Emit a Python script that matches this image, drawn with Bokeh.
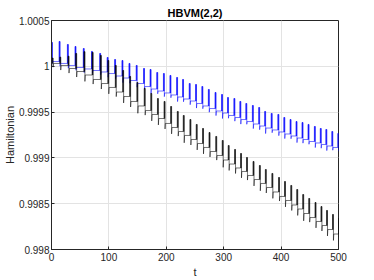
from bokeh.plotting import figure
from bokeh.models import FixedTicker, Range1d, ColumnDataSource
from bokeh.embed import file_html
from bokeh.resources import INLINE

# ---- data ----
spike_t = [0, 13.3, 27.7, 41.0, 55.4, 69.7, 84.0, 97.0, 110.0, 122.8, 135.0, 147.6,
           160.4, 171.8, 183.4, 195.0, 206.4, 218.0, 228.4, 240.0, 251.0, 262.0,
           273.3, 285.0, 296.3, 306.7, 317.8, 328.2, 338.6, 350.0, 361.0, 371.4,
           382.8, 394.4, 404.8, 415.7, 426.1, 436.5, 447.0, 458.0, 468.3, 478.0,
           488.4, 498.8]

blue_top = [1.000260, 1.000271, 1.000238, 1.000216, 1.000194, 1.000162, 1.000140,
            1.000096, 1.000074, 1.000063, 1.000031, 1.000009, 0.999976, 0.999965,
            0.999932, 0.999921, 0.999900, 0.999878, 0.999856, 0.999812, 0.999801,
            0.999779, 0.999747, 0.999714, 0.999692, 0.999659, 0.999648, 0.999616,
            0.999594, 0.999572, 0.999550, 0.999507, 0.999485, 0.999474, 0.999441,
            0.999419, 0.999397, 0.999386, 0.999365, 0.999343, 0.999321, 0.999310,
            0.999288, 0.999266]
blue_base = [1.000052, 1.000031, 1.000009, 0.999987, 0.999971, 0.999954, 0.999938,
             0.999921, 0.999894, 0.999872, 0.999845, 0.999812, 0.999779, 0.999752,
             0.999730, 0.999709, 0.999687, 0.999665, 0.999643, 0.999621, 0.999594,
             0.999567, 0.999539, 0.999512, 0.999490, 0.999463, 0.999441, 0.999419,
             0.999397, 0.999370, 0.999348, 0.999326, 0.999305, 0.999283, 0.999261,
             0.999239, 0.999217, 0.999201, 0.999179, 0.999163, 0.999146, 0.999130,
             0.999114, 0.999103]
blue_dip = [2, 3, 3, 3, 4, 3, 3, 4, 3, 5, 3, 4, 3, 5, 3, 4, 3, 5, 3, 4, 5, 3,
            4, 5, 6, 3, 4, 5, 3, 5, 4, 6, 3, 4, 5, 3, 5, 4, 3, 5, 4, 5, 3, 3]  # 1e-5

black_top = [1.000090, 1.000100, 1.000110, 1.000140, 1.000160, 1.000151, 1.000118,
             1.000063, 1.000009, 0.999954, 0.999889, 0.999823, 0.999758, 0.999703,
             0.999648, 0.999616, 0.999561, 0.999507, 0.999463, 0.999419, 0.999365,
             0.999321, 0.999277, 0.999234, 0.999190, 0.999135, 0.999092, 0.999048,
             0.999004, 0.998961, 0.998917, 0.998873, 0.998830, 0.998786, 0.998742,
             0.998699, 0.998655, 0.998600, 0.998557, 0.998513, 0.998469, 0.998426,
             0.998382, 0.998338]
black_base = [1.000031, 1.000009, 0.999976, 0.999943, 0.999905, 0.999856, 0.999812,
              0.999769, 0.999719, 0.999670, 0.999616, 0.999567, 0.999517, 0.999474,
              0.999430, 0.999376, 0.999332, 0.999288, 0.999245, 0.999201, 0.999157,
              0.999114, 0.999070, 0.999026, 0.998977, 0.998933, 0.998890, 0.998852,
              0.998808, 0.998764, 0.998721, 0.998677, 0.998628, 0.998579, 0.998535,
              0.998486, 0.998442, 0.998393, 0.998349, 0.998306, 0.998262, 0.998218,
              0.998169, 0.998142]
black_dip = [4, 5, 5, 6, 7, 5, 6, 7, 5, 7, 6, 8, 5, 7, 7, 6, 7, 5, 8, 6, 7, 7,
             6, 5, 8, 7, 6, 7, 5, 7, 8, 6, 7, 5, 7, 6, 7, 8, 5, 7, 6, 7, 7, 5]  # 1e-5

x_ticks = [0, 100, 200, 300, 400, 500]
y_ticks = [0.998, 0.9985, 0.999, 0.9995, 1.0, 1.0005]
y_tick_labels = ["0.998", "0.9985", "0.999", "0.9995", "1", "1.0005"]

SPIKE_W = 1.6
BLACK_SHIFT = 1.2


def build(times, top, base, dip, shift):
    xs, ys = [], []
    left, right, bottom, tops = [], [], [], []
    for i, t0 in enumerate(times):
        t = t0 + shift
        prev = base[i - 1] if i > 0 else base[0]
        if i > 0:
            xs.append(t); ys.append(prev)
        xs.append(t); ys.append(top[i])
        xs.append(t + SPIKE_W); ys.append(top[i])
        xs.append(t + SPIKE_W); ys.append(base[i] - dip[i] * 1e-5)
        xs.append(t + SPIKE_W + 0.6); ys.append(base[i])
        left.append(t); right.append(t + SPIKE_W)
        bottom.append(prev); tops.append(top[i])
    xs.append(500); ys.append(base[-1])
    return xs, ys, dict(left=left, right=right, bottom=bottom, top=tops)


bx, by, bq = build(spike_t, blue_top, blue_base, blue_dip, 0.0)
kx, ky, kq = build(spike_t, black_top, black_base, black_dip, BLACK_SHIFT)

TXT = "#262626"
FONT = "Liberation Sans"

p = figure(width=374, height=280, output_backend="svg", toolbar_location=None,
           x_range=Range1d(0, 500), y_range=Range1d(0.998, 1.0005),
           title="HBVM(2,2)", min_border_left=45, min_border_right=36,
           min_border_top=20, min_border_bottom=31)

p.title.align = "center"
p.title.text_font = FONT
p.title.text_font_size = "11px"
p.title.text_font_style = "bold"
p.title.text_color = "#000000"
p.title.standoff = 3
p.title.offset = 0

# blue series
p.line(bx, by, line_color="#0000ff", line_alpha=0.55, line_width=1)
p.quad(source=ColumnDataSource(bq), left="left", right="right", bottom="bottom", top="top",
       fill_color="#0000ff", fill_alpha=0.85, line_color="#0000ff", line_alpha=0.4, line_width=0.5)
# black series
p.line(kx, ky, line_color="#000000", line_alpha=0.55, line_width=1)
p.quad(source=ColumnDataSource(kq), left="left", right="right", bottom="bottom", top="top",
       fill_color="#000000", fill_alpha=0.8, line_color="#000000", line_alpha=0.4, line_width=0.5)

p.outline_line_color = TXT
p.outline_line_width = 1
p.background_fill_color = "white"
p.border_fill_color = "white"

for ax in (p.xaxis[0], p.yaxis[0]):
    ax.axis_line_color = TXT
    ax.major_tick_line_color = TXT
    ax.major_tick_in = 3
    ax.major_tick_out = 0
    ax.minor_tick_line_color = None
    ax.major_label_text_font = FONT
    ax.major_label_text_font_size = "10px"
    ax.major_label_text_color = TXT
    ax.axis_label_text_font = FONT
    ax.axis_label_text_font_size = "11px"
    ax.axis_label_text_font_style = "normal"
    ax.axis_label_text_color = TXT

p.xaxis.ticker = FixedTicker(ticks=x_ticks)
p.yaxis.ticker = FixedTicker(ticks=y_ticks)
p.yaxis.major_label_overrides = {v: s for v, s in zip(y_ticks, y_tick_labels)}
p.xaxis.axis_label = "t"
p.yaxis.axis_label = "Hamiltonian"
p.xaxis.major_label_standoff = 3
p.xaxis.axis_label_standoff = 2
p.yaxis.major_label_standoff = 2
p.yaxis.axis_label_standoff = 0

p.xgrid.grid_line_color = "#e3e3e3"
p.ygrid.grid_line_color = "#e3e3e3"
p.xgrid.ticker = FixedTicker(ticks=x_ticks)
p.ygrid.ticker = FixedTicker(ticks=y_ticks)

open("out.html", "w").write(file_html(p, INLINE))
